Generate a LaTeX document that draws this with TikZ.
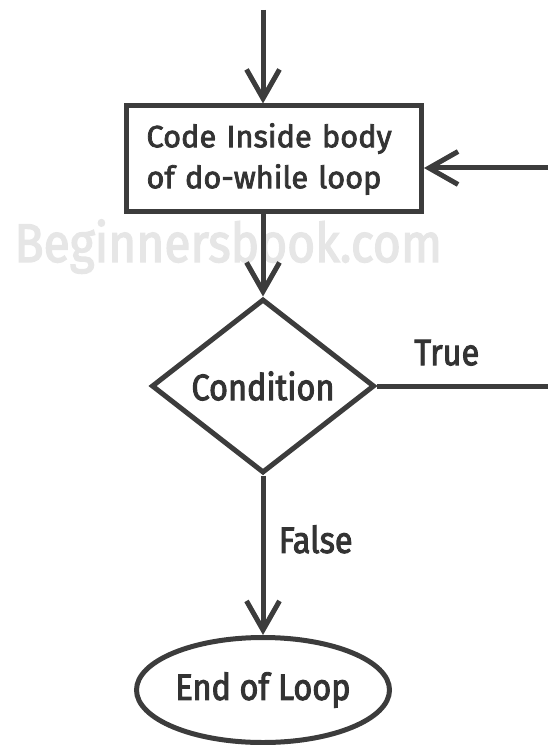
\documentclass[tikz,border=0pt]{standalone}
\usepackage{fontspec}
\setmainfont{Fira Sans}
\newfontfamily\flowfont{Fira Sans}[FakeStretch=0.88, FakeBold=2.5]
\newfontfamily\bodyfont{Fira Sans}[FakeBold=2.5]
\usepackage{tikz}
\usetikzlibrary{shapes.geometric, positioning, arrows.meta, calc}
\definecolor{linegray}{HTML}{3C3C3C}
\definecolor{textgray}{HTML}{333333}
\definecolor{markgray}{HTML}{E6E6E6}
\tikzset{
  flow/.style={
	->, % every connector is directed
	>={Straight Barb[length=0.58cm, width=0.66cm, line width=0.1cm]}, % open v-shaped heads
	line width=0.1cm, % thick dark strokes
	draw=linegray,
	node distance=3cm, % default gap between node centres
	every node/.style={text=textgray, font=\flowfont\fontsize{21}{24}\selectfont}, % labels
  },
  block/.style={rectangle, draw=linegray, line width=0.1cm, minimum width=5.9cm, minimum height=2.12cm, inner sep=0pt, align=left, text width=5.1cm, font=\bodyfont\fontsize{17.5}{23.3}\selectfont},
  decision/.style={diamond, draw=linegray, line width=0.1cm, minimum width=4.46cm, minimum height=3.48cm, inner sep=0pt},
  terminal/.style={ellipse, draw=linegray, line width=0.1cm, minimum width=5.06cm, minimum height=2.1cm, inner sep=0pt},
}

\begin{document}
\begin{tikzpicture}[flow]
	  \useasboundingbox (0,0) rectangle (10.94,-14.9);
	  \node[anchor=base west, inner sep=0pt, text=markgray, font=\flowfont\fontsize{31}{31}\selectfont] (mark) at (0.24,-5.24) {Beginnersbook.com};

	  \coordinate (top) at (5.26,-0.2);
	  \node[block, below of=top, node distance=2.98cm, xshift=0.22cm, text=textgray] (body) {Code Inside body\\of do-while loop};
	  \node[decision, below of=body, node distance=4.54cm, xshift=-0.22cm] (cond) {Condition};
	  \node[terminal, below of=cond, node distance=6.08cm] (end) {End of Loop};
	  \coordinate (back) at (11.03,-3.36);

	  \draw   (top) -- (top |- body.north);
	  \draw   (body.south -| cond) -- (cond.north);
	  \draw   (cond.south) -- node[right=0.15cm, pos=0.4]{False} (end.north);
	  \draw   (cond.east) -- node[above=0.24cm, pos=0.4]{True} (cond.east -| back)
		  -- (back) -- (back -| body.east);
	  \end{tikzpicture}
\end{document}
